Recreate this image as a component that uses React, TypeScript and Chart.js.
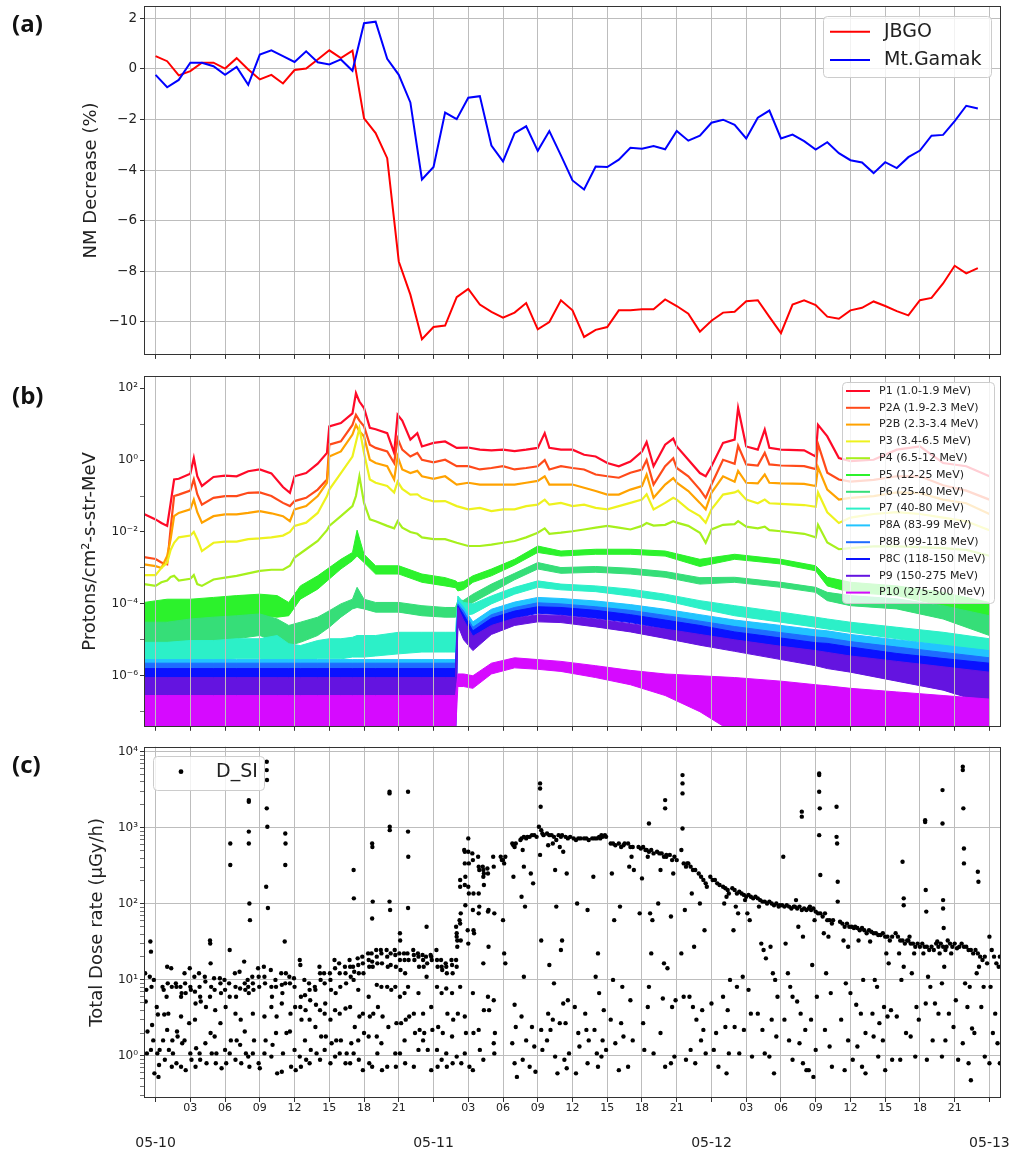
import React, { useEffect, useRef } from "react";
import { Chart, registerables } from "chart.js";

Chart.register(...registerables);

const FONT = "'DejaVu Sans', 'Liberation Sans', sans-serif";
const TXT = "#222222";
const GRID = "#bdbdbd";
const AXIS = "#333333";

// ---------------- shared x axis (hours since 05-10 00:00 UT) ----------------
const X_MIN = -1;
const X_MAX = 73;
const X_TICKS = [0, 3, 6, 9, 12, 15, 18, 21, 24, 27, 30, 33, 36, 39, 42, 45, 48, 51, 54, 57, 60, 63, 66, 69, 72];
const DAY_LABELS = ["05-10", "05-11", "05-12", "05-13"];

// ---------------- (a) neutron monitor decrease (%) ----------------
const NM_HOURS = [0, 1, 2, 3, 4, 5, 6, 7, 8, 9, 10, 11, 12, 13, 14, 15, 16, 17, 18, 19, 20, 21, 22, 23, 24, 25, 26, 27, 28, 29, 30, 31, 32, 33, 34, 35, 36, 37, 38, 39, 40, 41, 42, 43, 44, 45, 46, 47, 48, 49, 50, 51, 52, 53, 54, 55, 56, 57, 58, 59, 60, 61, 62, 63, 64, 65, 66, 67, 68, 69, 70, 71];
const JBGO = [0.5, 0.3, -0.26, -0.09, 0.24, 0.24, 0.01, 0.42, -0.03, -0.42, -0.24, -0.58, -0.05, 0.01, 0.37, 0.73, 0.42, 0.72, -1.96, -2.54, -3.53, -7.61, -8.92, -10.68, -10.2, -10.14, -9.02, -8.69, -9.31, -9.6, -9.83, -9.63, -9.25, -10.29, -10.0, -9.14, -9.54, -10.59, -10.31, -10.2, -9.54, -9.54, -9.5, -9.5, -9.11, -9.37, -9.67, -10.38, -9.95, -9.63, -9.6, -9.18, -9.14, -9.8, -10.44, -9.31, -9.14, -9.33, -9.79, -9.87, -9.54, -9.44, -9.19, -9.37, -9.57, -9.74, -9.14, -9.05, -8.48, -7.78, -8.08, -7.87];
const GAMAK = [-0.24, -0.73, -0.44, 0.24, 0.24, 0.1, -0.24, 0.07, -0.63, 0.56, 0.73, 0.5, 0.27, 0.69, 0.26, 0.17, 0.37, -0.08, 1.8, 1.86, 0.39, -0.24, -1.33, -4.37, -3.88, -1.73, -1.99, -1.14, -1.08, -3.03, -3.66, -2.54, -2.27, -3.24, -2.46, -3.42, -4.41, -4.77, -3.86, -3.88, -3.59, -3.12, -3.16, -3.05, -3.18, -2.46, -2.84, -2.64, -2.13, -2.01, -2.21, -2.75, -1.93, -1.65, -2.75, -2.6, -2.86, -3.19, -2.9, -3.33, -3.61, -3.7, -4.12, -3.69, -3.92, -3.49, -3.23, -2.64, -2.61, -2.07, -1.46, -1.57];
const NM_TICKS = [-10, -8, -6, -4, -2, 0, 2];

// ---------------- (b) GOES proton flux, log10(protons/cm2-s-str-MeV) ----------------
const TL = [-1, 0, 0.5, 1, 1.3, 1.6, 2, 3, 3.3, 3.6, 4, 5, 6, 7, 8, 9, 10, 11, 11.6, 12, 13, 14, 14.8, 15, 16, 17, 17.3, 17.6, 18, 18.5, 19, 20, 20.6, 20.9, 21.3, 22, 22.6, 23, 24, 25, 26, 27, 28, 29, 30, 31, 32, 33, 33.6, 34, 35, 36, 37, 38, 39, 40, 41, 42, 42.4, 43, 44, 44.7, 45, 46, 47, 47.5, 48, 49, 50, 50.3, 51, 52, 52.6, 53, 54, 56, 57, 57.2, 58, 59, 60, 62, 64, 66, 68, 70, 72];
const P1 = [-1.5, -1.65, -1.75, -1.83, -1.2, -0.54, -0.52, -0.38, 0.06, -0.45, -0.72, -0.47, -0.43, -0.45, -0.31, -0.26, -0.37, -0.75, -0.91, -0.45, -0.36, -0.1, 0.2, 0.94, 1.03, 1.3, 1.86, 1.63, 1.45, 0.9, 0.86, 0.75, 0.2, 1.26, 1.1, 0.57, 0.75, 0.38, 0.48, 0.52, 0.34, 0.35, 0.29, 0.27, 0.29, 0.25, 0.29, 0.34, 0.75, 0.34, 0.29, 0.29, 0.15, 0.1, -0.08, -0.17, -0.04, 0.24, 0.5, -0.17, 0.43, 0.6, 0.38, 0.01, -0.36, -0.45, -0.17, 0.48, 0.57, 1.45, 0.38, 0.29, 0.85, 0.34, 0.29, 0.27, 0.1, 0.98, 0.66, 0.06, -0.03, 0.01, 0.29, 0.38, -0.08, -0.17, -0.45];
const P2A = [-2.7, -2.75, -2.85, -2.9, -1.9, -1.0, -0.96, -0.85, -0.54, -0.95, -1.24, -1.05, -1.0, -1.0, -0.91, -0.9, -1.0, -1.19, -1.28, -1.14, -1.05, -0.82, -0.54, 0.43, 0.52, 0.98, 1.26, 1.1, 0.94, 0.43, 0.34, 0.24, -0.08, 0.6, 0.29, 0.1, 0.2, 0.01, -0.06, 0.01, -0.17, -0.17, -0.26, -0.22, -0.17, -0.26, -0.22, -0.17, 0.0, -0.26, -0.17, -0.22, -0.26, -0.4, -0.45, -0.49, -0.35, -0.26, 0.0, -0.68, -0.17, 0.05, -0.22, -0.45, -0.82, -1.05, -0.68, 0.01, -0.1, 0.4, -0.12, -0.15, 0.2, -0.12, -0.15, -0.17, -0.25, 0.45, -0.35, -0.54, -0.6, -0.55, -0.45, -0.45, -0.7, -0.85, -1.1];
const P2B = [-2.9, -2.95, -3.0, -2.67, -2.2, -1.56, -1.47, -1.37, -1.1, -1.45, -1.74, -1.56, -1.51, -1.51, -1.47, -1.42, -1.48, -1.56, -1.7, -1.37, -1.28, -1.0, -0.63, 0.1, 0.24, 0.71, 0.98, 0.8, 0.66, 0.01, -0.08, -0.17, -0.54, 0.1, -0.26, -0.36, -0.3, -0.45, -0.52, -0.45, -0.68, -0.63, -0.68, -0.68, -0.68, -0.68, -0.63, -0.58, -0.45, -0.68, -0.68, -0.68, -0.77, -0.86, -0.96, -0.96, -0.82, -0.72, -0.4, -1.05, -0.68, -0.5, -0.63, -0.86, -1.19, -1.37, -0.91, -0.45, -0.6, -0.3, -0.63, -0.65, -0.4, -0.63, -0.65, -0.66, -0.72, -0.2, -0.82, -1.1, -1.05, -1.0, -0.9, -0.92, -1.1, -1.2, -1.5];
const P3 = [-3.2, -3.2, -3.0, -2.85, -2.5, -2.3, -2.15, -2.1, -2.0, -2.2, -2.53, -2.3, -2.27, -2.27, -2.2, -2.18, -2.15, -2.1, -2.0, -1.83, -1.74, -1.47, -1.0, -0.82, -0.36, 0.1, 0.5, 0.89, 0.2, -0.54, -0.63, -0.72, -0.9, -0.6, -0.8, -0.96, -0.95, -1.05, -1.15, -1.14, -1.28, -1.37, -1.33, -1.42, -1.37, -1.37, -1.28, -1.24, -1.1, -1.24, -1.19, -1.28, -1.24, -1.33, -1.37, -1.28, -1.19, -1.1, -0.95, -1.37, -1.19, -1.05, -1.1, -1.37, -1.56, -1.74, -1.37, -0.96, -0.9, -0.85, -1.1, -1.2, -1.1, -1.2, -1.22, -1.25, -1.3, -0.9, -1.45, -1.75, -1.6, -1.5, -1.45, -1.5, -1.6, -1.7, -1.95];
const P4 = [-3.45, -3.5, -3.4, -3.35, -3.25, -3.22, -3.35, -3.3, -3.2, -3.45, -3.5, -3.32, -3.27, -3.22, -3.15, -3.08, -3.05, -3.05, -2.94, -2.71, -2.48, -2.25, -1.95, -1.83, -1.56, -1.28, -1.0, -0.45, -1.19, -1.65, -1.7, -1.83, -1.9, -1.7, -1.88, -2.0, -2.05, -2.15, -2.2, -2.2, -2.3, -2.39, -2.39, -2.35, -2.3, -2.25, -2.15, -2.02, -1.9, -2.05, -2.02, -1.98, -1.93, -1.88, -1.83, -1.88, -1.93, -1.83, -1.75, -1.82, -1.8, -1.7, -1.74, -1.83, -2.02, -2.3, -1.93, -1.8, -1.78, -1.7, -1.85, -1.9, -1.85, -1.95, -1.98, -2.05, -2.15, -1.8, -2.29, -2.48, -2.45, -2.4, -2.4, -2.42, -2.45, -2.5, -2.66];

const TB = [-1, 1, 3, 5, 7, 9, 10.5, 11.5, 12.5, 14, 15, 16, 17, 17.4, 18, 19, 21, 23, 25, 25.9, 26.1, 26.6, 27.4, 29, 31, 33, 35, 38, 41, 44, 47, 50, 54, 57, 58, 60, 64, 68, 72];
const P5_HI = [-3.96, -3.87, -3.87, -3.82, -3.77, -3.73, -3.77, -3.96, -3.5, -3.22, -2.99, -2.76, -2.57, -1.95, -2.62, -2.94, -2.94, -3.17, -3.27, -3.36, -3.41, -3.38, -3.22, -3.03, -2.76, -2.39, -2.53, -2.48, -2.48, -2.53, -2.76, -2.62, -2.76, -2.94, -3.26, -3.4, -3.5, -3.68, -3.96];
const P5_LO = [-4.6, -4.51, -4.51, -4.42, -4.37, -4.33, -4.37, -4.33, -3.87, -3.59, -3.31, -3.03, -2.8, -2.67, -2.85, -3.17, -3.17, -3.4, -3.5, -3.55, -3.64, -3.6, -3.4, -3.22, -2.92, -2.57, -2.67, -2.62, -2.62, -2.67, -2.96, -2.76, -2.89, -3.08, -3.5, -3.68, -3.77, -4.05, -4.5];
const P6_HI = [-4.51, -4.51, -4.42, -4.37, -4.33, -4.28, -4.42, -4.6, -4.51, -4.37, -4.19, -4.0, -3.87, -3.54, -3.87, -3.96, -3.96, -4.05, -4.1, -4.1, -3.91, -3.9, -3.73, -3.45, -3.15, -2.85, -2.99, -2.96, -3.01, -3.1, -3.27, -3.26, -3.4, -3.54, -3.68, -3.77, -3.86, -4.05, -4.33];
const P6_LO = [-5.25, -5.16, -5.16, -5.07, -4.97, -4.88, -5.07, -5.16, -5.07, -4.88, -4.65, -4.37, -4.14, -4.1, -4.14, -4.23, -4.23, -4.33, -4.37, -4.37, -4.19, -4.2, -3.96, -3.68, -3.33, -3.03, -3.15, -3.12, -3.17, -3.26, -3.45, -3.4, -3.54, -3.68, -3.91, -4.05, -4.14, -4.42, -4.88];
const P7_HI = [-5.07, -5.07, -5.02, -5.02, -4.97, -4.97, -4.88, -5.11, -5.16, -5.02, -4.97, -4.97, -4.93, -4.88, -4.88, -4.88, -4.79, -4.79, -4.79, -4.79, -3.78, -3.96, -4.0, -3.78, -3.54, -3.36, -3.45, -3.5, -3.59, -3.73, -3.91, -4.05, -4.23, -4.37, -4.42, -4.51, -4.65, -4.79, -4.97];
const P7_LO = [-5.62, -5.62, -5.57, -5.57, -5.53, -5.53, -5.62, -5.62, -5.62, -5.53, -5.53, -5.53, -5.48, -5.48, -5.48, -5.45, -5.39, -5.34, -5.34, -5.34, -4.14, -4.33, -4.28, -4.0, -3.73, -3.54, -3.61, -3.66, -3.78, -3.91, -4.13, -4.33, -4.51, -4.65, -4.7, -4.79, -4.97, -5.16, -5.39];
const P8A_HI = [-5.55, -5.55, -5.55, -5.55, -5.55, -5.55, -5.55, -5.55, -5.55, -5.55, -5.55, -5.55, -5.55, -5.55, -5.55, -5.55, -5.55, -5.55, -5.55, -5.55, -3.9, -4.1, -4.5, -4.15, -3.95, -3.82, -3.85, -3.92, -4.02, -4.15, -4.3, -4.45, -4.6, -4.72, -4.75, -4.85, -5.0, -5.15, -5.3];
const P8A_LO = [-7.6, -7.6, -7.6, -7.6, -7.6, -7.6, -7.6, -7.6, -7.6, -7.6, -7.6, -7.6, -7.6, -7.6, -7.6, -7.6, -7.6, -7.6, -7.6, -7.6, -4.3, -4.5, -4.9, -4.4, -4.15, -4.0, -4.05, -4.12, -4.22, -4.38, -4.55, -4.7, -4.88, -5.0, -5.05, -5.15, -5.35, -5.5, -5.7];
const P8B_HI = [-5.65, -5.65, -5.65, -5.65, -5.65, -5.65, -5.65, -5.65, -5.65, -5.65, -5.65, -5.65, -5.65, -5.65, -5.65, -5.65, -5.65, -5.65, -5.65, -5.65, -4.0, -4.2, -4.65, -4.3, -4.1, -3.97, -4.0, -4.08, -4.18, -4.32, -4.48, -4.63, -4.8, -4.92, -4.95, -5.05, -5.2, -5.35, -5.5];
const P8B_LO = [-7.6, -7.6, -7.6, -7.6, -7.6, -7.6, -7.6, -7.6, -7.6, -7.6, -7.6, -7.6, -7.6, -7.6, -7.6, -7.6, -7.6, -7.6, -7.6, -7.6, -4.4, -4.7, -5.05, -4.55, -4.3, -4.15, -4.2, -4.28, -4.4, -4.56, -4.75, -4.92, -5.1, -5.25, -5.3, -5.4, -5.6, -5.8, -6.0];
const P8C_HI = [-5.8, -5.8, -5.8, -5.8, -5.8, -5.8, -5.8, -5.8, -5.8, -5.8, -5.8, -5.8, -5.8, -5.8, -5.8, -5.8, -5.8, -5.8, -5.8, -5.8, -4.05, -4.3, -4.75, -4.4, -4.2, -4.08, -4.1, -4.18, -4.3, -4.45, -4.6, -4.78, -4.95, -5.08, -5.1, -5.2, -5.38, -5.52, -5.65];
const P8C_LO = [-7.6, -7.6, -7.6, -7.6, -7.6, -7.6, -7.6, -7.6, -7.6, -7.6, -7.6, -7.6, -7.6, -7.6, -7.6, -7.6, -7.6, -7.6, -7.6, -7.6, -4.5, -4.8, -5.15, -4.65, -4.4, -4.26, -4.3, -4.4, -4.52, -4.7, -4.9, -5.08, -5.28, -5.45, -5.5, -5.6, -5.82, -6.05, -6.3];
const P9_HI = [-6.05, -6.05, -6.05, -6.05, -6.05, -6.05, -6.05, -6.05, -6.05, -6.05, -6.05, -6.05, -6.05, -6.05, -6.05, -6.05, -6.05, -6.05, -6.05, -6.05, -4.1, -4.45, -4.9, -4.6, -4.4, -4.3, -4.32, -4.42, -4.55, -4.7, -4.85, -5.0, -5.18, -5.3, -5.35, -5.45, -5.6, -5.75, -5.9];
const P9_LO = [-7.6, -7.6, -7.6, -7.6, -7.6, -7.6, -7.6, -7.6, -7.6, -7.6, -7.6, -7.6, -7.6, -7.6, -7.6, -7.6, -7.6, -7.6, -7.6, -7.6, -4.6, -5.0, -5.3, -4.85, -4.6, -4.5, -4.52, -4.64, -4.78, -4.96, -5.15, -5.32, -5.55, -5.72, -5.8, -5.9, -6.15, -6.4, -6.8];
const P10_HI = [-6.55, -6.55, -6.55, -6.55, -6.55, -6.55, -6.55, -6.55, -6.55, -6.55, -6.55, -6.55, -6.55, -6.55, -6.55, -6.55, -6.55, -6.55, -6.55, -6.55, -5.95, -5.95, -6.0, -5.65, -5.5, -5.55, -5.6, -5.72, -5.85, -5.95, -6.0, -6.05, -6.15, -6.25, -6.28, -6.35, -6.45, -6.55, -6.65];
const P10_LO = [-7.6, -7.6, -7.6, -7.6, -7.6, -7.6, -7.6, -7.6, -7.6, -7.6, -7.6, -7.6, -7.6, -7.6, -7.6, -7.6, -7.6, -7.6, -7.6, -7.6, -6.3, -6.3, -6.35, -5.95, -5.78, -5.82, -5.88, -6.05, -6.25, -6.55, -7.0, -7.6, -7.6, -7.6, -7.6, -7.6, -7.6, -7.6, -7.6];

const LINE_SERIES = [
  { label: "P1 (1.0-1.9 MeV)", color: "#ff0a28", y: P1 },
  { label: "P2A (1.9-2.3 MeV)", color: "#ff4a1a", y: P2A },
  { label: "P2B (2.3-3.4 MeV)", color: "#ffa200", y: P2B },
  { label: "P3 (3.4-6.5 MeV)", color: "#eef21e", y: P3 },
  { label: "P4 (6.5-12 MeV)", color: "#a6f01c", y: P4 },
];
const BAND_SERIES = [
  { label: "P5 (12-25 MeV)", color: "#2cf22c", hi: P5_HI, lo: P5_LO },
  { label: "P6 (25-40 MeV)", color: "#36de78", hi: P6_HI, lo: P6_LO },
  { label: "P7 (40-80 MeV)", color: "#2cf0c8", hi: P7_HI, lo: P7_LO },
  { label: "P8A (83-99 MeV)", color: "#22c4ff", hi: P8A_HI, lo: P8A_LO },
  { label: "P8B (99-118 MeV)", color: "#1e6cff", hi: P8B_HI, lo: P8B_LO },
  { label: "P8C (118-150 MeV)", color: "#0a12ff", hi: P8C_HI, lo: P8C_LO },
  { label: "P9 (150-275 MeV)", color: "#6414e0", hi: P9_HI, lo: P9_LO },
  { label: "P10 (275-500 MeV)", color: "#d60aff", hi: P10_HI, lo: P10_LO },
];

// ---------------- (c) total dose rate, [hour, uGy/h] ----------------
const DOSE = [
  [-0.9, 12.2], [-0.8, 7.4], [-0.85, 5.2], [-0.75, 1.08], [-0.7, 2.1],
  [-0.45, 32], [-0.4, 23.5], [-0.5, 11], [-0.35, 8.1], [-0.4, 1.2], [-0.3, 2.55],
  [-0.15, 10], [-0.2, 1.6], [-0.1, 0.59],
  [0.1, 4.4], [0.2, 3.5], [0.25, 0.53], [0.3, 0.76], [0.15, 1.08], [0.35, 1.2],
  [0.6, 8.1], [0.7, 7.4], [0.75, 3.5], [0.65, 1.6], [0.8, 0.89],
  [1.0, 14.9], [1.05, 9], [0.95, 6], [1.1, 3.6], [1.0, 2.2], [1.15, 1.2],
  [1.35, 14.2], [1.4, 8.1], [1.45, 1.6], [1.5, 1.08], [1.4, 0.72],
  [1.75, 9], [1.8, 8.1], [1.85, 2.1], [1.9, 1.8], [1.8, 0.8],
  [2.15, 8.1], [2.2, 6], [2.25, 6.7], [2.2, 3.3], [2.3, 1.47], [2.2, 0.72],
  [2.5, 12.2], [2.55, 9], [2.6, 6.7], [2.5, 1.6], [2.6, 0.65],
  [2.95, 14.2], [3.0, 8.1], [3.05, 7.4], [2.9, 2.7], [3.0, 1.08], [3.1, 0.89],
  [3.35, 11], [3.4, 7], [3.45, 4.9], [3.4, 3], [3.5, 1.26], [3.45, 0.72],
  [3.75, 12.2], [3.8, 8.1], [3.85, 6], [3.9, 5.2], [3.8, 1.08], [3.85, 0.89],
  [4.25, 11], [4.3, 9.5], [4.35, 4.4], [4.3, 1.47], [4.4, 0.8],
  [4.7, 33], [4.72, 30], [4.75, 16.5], [4.8, 8.1], [4.7, 6], [4.75, 2.0], [4.85, 1.08],
  [5.05, 10.5], [5.1, 7.4], [5.15, 4], [5.1, 1.8], [5.2, 0.8], [5.25, 1.08],
  [5.55, 10.5], [5.6, 9], [5.65, 6.7], [5.6, 2.7], [5.7, 0.69],
  [5.95, 10], [6.0, 7.4], [6.05, 4.4], [6.0, 1.2], [6.1, 0.8],
  [6.45, 620], [6.45, 324], [6.4, 24.7], [6.35, 9], [6.4, 6], [6.5, 1.6], [6.4, 1.08],
  [6.85, 12.2], [6.9, 8.1], [6.95, 6], [6.9, 3.6], [7.0, 1.6], [6.9, 0.89],
  [7.25, 12.8], [7.3, 7.7], [7.35, 3], [7.3, 1.4], [7.4, 0.8],
  [7.65, 17.4], [7.7, 9], [7.75, 7.4], [7.7, 2.1], [7.8, 1.08],
  [8.05, 2310], [8.05, 2200], [8.05, 890], [8.05, 620], [8.1, 101], [8.15, 61], [7.95, 10], [8.0, 8.1], [8.05, 6.7], [8.0, 0.98], [8.1, 0.72],
  [8.35, 11], [8.4, 9], [8.45, 7.4], [8.4, 3.6], [8.5, 1.6], [8.4, 1.08],
  [8.85, 14.2], [8.9, 11], [8.95, 8.1], [8.9, 0.8], [9.0, 0.69],
  [9.35, 14.9], [9.4, 11], [9.45, 9], [9.4, 3.3], [9.5, 1.6], [9.4, 1.08],
  [9.6, 7380], [9.6, 5730], [9.62, 4240], [9.6, 1800], [9.65, 1030], [9.55, 168], [9.7, 88],
  [9.95, 13.5], [10.0, 8.1], [10.05, 6], [10.0, 4.4], [10.1, 1.4], [10.0, 0.98],
  [10.35, 10], [10.4, 8.1], [10.45, 3.3], [10.4, 2], [10.5, 0.59],
  [10.85, 12.2], [10.9, 8.6], [10.95, 6.7], [10.9, 4.9], [11.0, 1.08], [10.9, 0.62],
  [11.2, 840], [11.22, 620], [11.2, 324], [11.15, 32], [11.25, 12.2], [11.2, 9], [11.3, 2.0],
  [11.55, 11], [11.6, 9], [11.65, 3.6], [11.6, 2.1], [11.7, 0.72],
  [11.95, 10.5], [12.0, 8.1], [12.05, 4.4], [12.0, 1.2], [12.1, 0.65],
  [12.45, 18.3], [12.5, 15.7], [12.55, 6], [12.5, 4.4], [12.6, 3], [12.45, 0.98], [12.55, 0.72],
  [12.85, 10], [12.9, 6.3], [12.95, 4], [12.9, 1.6], [13.0, 0.89],
  [13.25, 9], [13.3, 7.4], [13.35, 5.4], [13.3, 3], [13.4, 1.2], [13.3, 0.8],
  [13.75, 8.1], [13.8, 7.4], [13.85, 4.7], [13.8, 2.4], [13.9, 1.08],
  [14.15, 14.9], [14.2, 12.2], [14.25, 10], [14.2, 4], [14.3, 1.8], [14.2, 0.89],
  [14.55, 12.2], [14.6, 9], [14.65, 4.9], [14.6, 3.6], [14.7, 1.8], [14.6, 1.2],
  [15.05, 12.2], [15.1, 10], [15.15, 7.4], [15.1, 3], [15.2, 1.47], [15.1, 0.8],
  [15.45, 18.3], [15.5, 14.2], [15.55, 6.7], [15.5, 4], [15.6, 1.6], [15.5, 0.98],
  [15.85, 16.5], [15.9, 12.2], [15.95, 8.1], [15.9, 3.6], [16.0, 1.6], [15.9, 1.08],
  [16.35, 14.9], [16.4, 12.2], [16.45, 9], [16.4, 4.2], [16.5, 1.08], [16.4, 0.8],
  [16.75, 18.3], [16.8, 14.9], [16.85, 11], [16.8, 4.4], [16.9, 1.47], [16.8, 0.8],
  [17.1, 278], [17.12, 118], [17.05, 14.9], [17.15, 12.8], [17.1, 10], [17.2, 2.4], [17.1, 1.08],
  [17.45, 19.2], [17.5, 15.7], [17.55, 12.2], [17.5, 7.4], [17.6, 3.3], [17.5, 1.6], [17.55, 0.89],
  [17.85, 20.2], [17.9, 16.5], [17.95, 12.2], [17.9, 3.6], [18.0, 2], [17.9, 0.65],
  [18.35, 22.3], [18.4, 18.3], [18.45, 14.9], [18.4, 6], [18.5, 3.3], [18.4, 1.8], [18.45, 0.8],
  [18.7, 620], [18.72, 560], [18.75, 107], [18.7, 64], [18.65, 22.3], [18.7, 17.4], [18.75, 14.9], [18.8, 3.6], [18.7, 0.72],
  [19.05, 24.7], [19.1, 20.2], [19.15, 16.5], [19.1, 8.6], [19.2, 4.4], [19.1, 1.8], [19.15, 1.08],
  [19.45, 24.7], [19.5, 22.3], [19.55, 16.5], [19.5, 8.1], [19.6, 3.3], [19.5, 1.47], [19.55, 0.65],
  [19.95, 24.7], [20.0, 20.2], [20.05, 14.9], [20.0, 8.1], [20.1, 2.4], [20.0, 0.72],
  [20.2, 2970], [20.2, 2830], [20.22, 1030], [20.22, 930], [20.2, 107], [20.25, 83], [20.3, 22.3], [20.3, 15.7], [20.35, 7.4],
  [20.65, 24.7], [20.7, 21.2], [20.75, 14.9], [20.7, 8.1], [20.8, 2.7], [20.7, 1.08], [20.75, 0.72],
  [21.1, 41], [21.12, 33], [21.05, 22.3], [21.1, 18.3], [21.15, 13.5], [21.1, 6], [21.2, 2.7], [21.1, 1.08],
  [21.45, 22.3], [21.5, 18.3], [21.55, 12.2], [21.5, 6.7], [21.6, 3], [21.5, 1.6], [21.55, 0.8],
  [21.8, 2970], [21.8, 890], [21.82, 416], [21.8, 88], [21.75, 22.3], [21.85, 18.3], [21.8, 8.1], [21.9, 3.3],
  [22.25, 24.7], [22.3, 21.2], [22.35, 18.3], [22.3, 3.6], [22.4, 2], [22.3, 0.72],
  [22.65, 22.3], [22.7, 20.2], [22.75, 14.9], [22.7, 6.7], [22.8, 2.2], [22.7, 1.2],
  [23.05, 21.2], [23.1, 18.3], [23.15, 14.9], [23.1, 3.6], [23.2, 2], [23.1, 1.6],
  [23.4, 50], [23.35, 20.2], [23.45, 16.5], [23.4, 11], [23.5, 1.2],
  [23.75, 21.2], [23.8, 20.2], [23.85, 18.3], [23.8, 4.4], [23.9, 2.2], [23.8, 0.65],
  [24.25, 24.7], [24.3, 18.3], [24.35, 14.9], [24.3, 8.1], [24.4, 2.4], [24.3, 1.2], [24.35, 0.72],
  [24.65, 18.3], [24.7, 14.9], [24.75, 13.5], [24.7, 6.7], [24.8, 2], [24.7, 0.89],
  [25.05, 16.5], [25.1, 14.9], [25.15, 12.2], [25.1, 7.7], [25.2, 3.6], [25.1, 1.08], [25.15, 0.72],
  [25.55, 18.3], [25.6, 15.7], [25.65, 12.2], [25.6, 6.7], [25.7, 3], [25.6, 1.8], [25.65, 0.8],
  [25.95, 50], [26.0, 41], [26.0, 37], [26.05, 33], [26.05, 27.3], [25.95, 18.3], [26.0, 14.9], [26.1, 3.6], [26.0, 0.98],
  [26.3, 168], [26.3, 206], [26.35, 75], [26.25, 61], [26.3, 55], [26.35, 33], [26.3, 8.1], [26.4, 0.8],
  [26.65, 510], [26.7, 485], [26.7, 340], [26.75, 227], [26.7, 177], [26.75, 96], [26.7, 3.3], [26.8, 2], [26.7, 1.08],
  [27.0, 725], [27.0, 485], [27.05, 340], [27.0, 168], [27.05, 137], [26.95, 45], [27.0, 30], [27.1, 0.72],
  [27.35, 460], [27.4, 376], [27.45, 137], [27.4, 83], [27.45, 45], [27.5, 41], [27.4, 6.7], [27.45, 2], [27.4, 0.65],
  [27.85, 416], [27.9, 308], [27.95, 278], [27.9, 137], [27.95, 92], [27.9, 75], [27.9, 2.2], [28.0, 1.2],
  [28.25, 308], [28.3, 278], [28.35, 251], [28.3, 227], [28.35, 177], [28.3, 16.5], [28.35, 4], [28.3, 0.89],
  [28.65, 292], [28.7, 251], [28.75, 83], [28.7, 79], [28.75, 27.3], [28.7, 6], [28.8, 4],
  [29.15, 416], [29.2, 308], [29.25, 75], [29.2, 5.4], [29.3, 2.0], [29.2, 1.47], [29.25, 1.08],
  [29.8, 416], [29.9, 376], [30.0, 376], [30.1, 340], [30.2, 416], [30.0, 61], [30.1, 22.3], [30.2, 16.5],
  [30.8, 620], [30.9, 590], [31.0, 560], [31.1, 620], [30.9, 227], [31.0, 4.7], [31.1, 2.4], [30.8, 1.47], [31.0, 0.8], [31.2, 0.53],
  [31.5, 690], [31.6, 725], [31.8, 760], [32.0, 725], [32.1, 760], [31.7, 510], [31.8, 308], [31.6, 124], [31.9, 92], [31.8, 11], [31.6, 3.3], [32.0, 1.6], [31.7, 0.89],
  [32.3, 760], [32.5, 800], [32.7, 800], [32.9, 760], [32.4, 251], [32.6, 186], [32.5, 2.4], [32.7, 1.33], [32.3, 0.72], [32.8, 0.62],
  [33.2, 3830], [33.2, 3290], [33.25, 1890], [33.1, 1030], [33.3, 930], [33.4, 840], [33.5, 800], [33.2, 440], [33.3, 33], [33.3, 2.2], [33.4, 1.2],
  [33.8, 840], [34.0, 800], [33.9, 590], [34.0, 15.7], [33.9, 3.6], [34.1, 2.2], [33.8, 1.6],
  [34.2, 800], [34.4, 760], [34.6, 690], [34.3, 620], [34.5, 278], [34.6, 92], [34.4, 9], [34.3, 3], [34.5, 0.98], [34.7, 0.59],
  [34.8, 800], [35.0, 760], [35.1, 800], [34.9, 560], [35.2, 485], [35.1, 33], [35.0, 24.7], [35.2, 4.9], [34.9, 2.7], [35.3, 0.89],
  [35.4, 760], [35.6, 725], [35.8, 760], [35.5, 251], [35.6, 5.4], [35.4, 2.7], [35.7, 1.08], [35.5, 0.69],
  [36.1, 725], [36.3, 690], [36.5, 725], [36.7, 725], [36.4, 101], [36.2, 4.4], [36.5, 2], [36.6, 1.33], [36.3, 0.59],
  [37.0, 725], [37.2, 725], [37.4, 690], [37.3, 83], [37.1, 3.6], [37.2, 2.2], [37.4, 1.6], [37.3, 0.8],
  [37.7, 725], [37.9, 725], [38.1, 725], [38.3, 760], [38.4, 725], [37.8, 227], [38.2, 22.3], [38.0, 11], [38.3, 6.7], [37.9, 2.2], [38.1, 1.08], [38.2, 0.72],
  [38.5, 800], [38.6, 760], [38.8, 800], [38.9, 760], [38.7, 4], [38.6, 1.6], [38.9, 1.2], [38.5, 0.98],
  [39.3, 620], [39.5, 620], [39.7, 590], [39.4, 251], [39.6, 61], [39.5, 10], [39.3, 3], [39.7, 1.47],
  [40.0, 620], [40.2, 560], [40.4, 590], [40.5, 620], [40.1, 92], [40.3, 8.1], [40.2, 2.7], [40.4, 1.8], [40.0, 0.65],
  [40.8, 620], [41.0, 560], [41.2, 560], [41.1, 416], [40.9, 308], [41.3, 278], [41.0, 5.4], [41.2, 1.6], [40.8, 0.72],
  [41.7, 560], [41.9, 535], [42.1, 560], [42.3, 510], [42.0, 216], [41.8, 75], [42.1, 2.7], [42.2, 1.2],
  [42.6, 1140], [42.4, 510], [42.6, 485], [42.8, 510], [43.0, 460], [42.5, 416], [42.7, 75], [42.9, 61], [42.8, 22.3], [42.6, 8.1], [42.5, 4.4], [43.0, 1.08],
  [43.3, 485], [43.5, 460], [43.7, 460], [43.9, 416], [44.1, 440], [43.6, 278], [43.4, 101], [43.8, 5.7], [43.6, 2], [44.0, 0.72],
  [44.0, 2310], [44.0, 1800], [44.1, 416], [44.2, 14.2], [43.9, 16.5],
  [44.4, 440], [44.6, 376], [44.8, 416], [45.0, 376], [44.7, 251], [44.5, 68], [44.9, 5.4], [44.6, 4.4], [44.8, 0.98], [44.5, 0.8],
  [45.5, 4930], [45.5, 3830], [45.5, 2830], [45.5, 980], [45.4, 510], [45.6, 340], [45.8, 308], [45.9, 340], [45.7, 83], [45.4, 22.3], [45.6, 6], [45.8, 0.89],
  [46.0, 340], [46.2, 308], [46.4, 278], [46.6, 278], [46.3, 137], [46.5, 27.3], [46.1, 6], [46.4, 4.4], [46.7, 3], [46.2, 1.2], [46.6, 0.8],
  [46.9, 251], [47.1, 227], [47.3, 206], [47.5, 186], [47.6, 168], [47.0, 101], [47.4, 45], [47.2, 4], [47.3, 2.2], [47.1, 1.6], [47.5, 1.08],
  [47.9, 227], [48.1, 206], [48.3, 206], [48.5, 186], [48.7, 177], [48.0, 4.9], [48.4, 2], [48.2, 1.2], [48.6, 0.72],
  [49.0, 168], [49.2, 160], [49.4, 152], [49.5, 137], [49.3, 124], [49.1, 101], [49.6, 10], [49.0, 6], [49.4, 4], [49.2, 2.4], [49.5, 1.08], [49.3, 0.59],
  [49.8, 160], [50.0, 152], [50.2, 137], [50.4, 144], [50.1, 92], [50.3, 75], [49.9, 45], [50.2, 8.1], [50.0, 2.4], [50.4, 1.08],
  [50.6, 137], [50.8, 131], [51.0, 124], [51.2, 131], [51.4, 124], [51.6, 118], [50.9, 112], [51.1, 75], [51.3, 61], [50.7, 11], [51.2, 7.4], [51.4, 3.6], [50.8, 2.2], [51.5, 0.98],
  [51.8, 124], [52.0, 118], [52.2, 112], [52.4, 107], [52.6, 107], [52.8, 101], [52.1, 92], [52.3, 30], [52.5, 24.7], [52.7, 19.2], [52.0, 3.6], [52.4, 2.2], [52.6, 1.08],
  [53.0, 107], [53.2, 101], [53.4, 96], [53.6, 101], [53.8, 92], [53.9, 96], [53.1, 27.3], [53.3, 12.2], [53.5, 10], [53.7, 6], [53.2, 3], [53.6, 1.8], [53.0, 0.98], [53.4, 0.59],
  [54.2, 416], [54.1, 96], [54.3, 92], [54.5, 96], [54.7, 92], [54.9, 87], [55.1, 92], [54.4, 30], [54.6, 12.2], [54.8, 8.1], [55.0, 6], [54.3, 3], [54.7, 1.6], [55.0, 0.89],
  [55.2, 92], [55.4, 87], [55.6, 92], [55.8, 83], [56.0, 87], [56.2, 83], [55.3, 112], [55.5, 50], [55.9, 37], [55.4, 5.2], [55.7, 3.6], [56.1, 2.2], [55.6, 1.47], [55.9, 0.8], [56.2, 0.65],
  [55.8, 1630], [55.8, 1400],
  [56.4, 87], [56.6, 83], [56.8, 87], [57.0, 79], [57.2, 75], [57.4, 75], [56.5, 92], [56.9, 61], [56.7, 15.7], [57.1, 6], [56.6, 3], [57.0, 1.2], [56.4, 0.65], [56.8, 0.53],
  [57.3, 5180], [57.3, 4930], [57.3, 2970], [57.35, 1800], [57.3, 800], [57.4, 239],
  [57.6, 68], [57.8, 75], [58.0, 61], [58.2, 61], [58.4, 55], [58.5, 61], [57.7, 41], [58.1, 37], [57.9, 12.2], [58.3, 6.7], [57.8, 2.2], [58.2, 1.33], [58.4, 0.72],
  [58.8, 1890], [58.8, 760], [58.85, 620], [58.9, 195], [58.9, 107],
  [59.1, 58], [59.3, 55], [59.5, 50], [59.7, 55], [59.9, 50], [60.1, 50], [60.3, 48], [59.4, 33], [59.8, 27.3], [59.6, 9], [60.0, 6.7], [59.2, 3], [59.8, 1.6], [60.2, 0.89], [59.5, 0.65],
  [60.4, 50], [60.6, 48], [60.8, 45], [61.0, 48], [61.2, 45], [61.4, 41], [60.7, 33], [61.1, 10], [60.5, 4.7], [60.9, 3.6], [61.3, 2], [60.6, 1.33], [61.0, 0.72], [61.3, 0.59],
  [61.6, 45], [61.8, 43], [62.0, 41], [62.2, 41], [62.4, 39], [62.6, 39], [61.7, 32], [62.1, 10], [62.3, 8.1], [61.9, 3.6], [62.5, 2.7], [62.0, 1.8], [62.4, 0.98],
  [62.8, 41], [63.0, 37], [63.2, 37], [63.4, 33], [63.6, 37], [63.1, 22.3], [63.3, 16.5], [62.9, 4.4], [63.5, 4], [63.2, 3.3], [62.8, 1.6], [63.6, 0.89], [63.0, 0.65],
  [63.9, 41], [64.1, 37], [64.3, 33], [64.5, 33], [64.7, 30], [64.9, 33], [64.2, 22.3], [64.6, 14.9], [64.4, 10], [64.0, 3.3], [64.8, 2], [64.3, 0.89],
  [64.5, 358], [64.6, 118], [64.6, 96],
  [65.0, 33], [65.2, 30], [65.4, 30], [65.6, 27.3], [65.8, 30], [66.0, 27.3], [65.1, 37], [65.5, 22.3], [65.3, 12.2], [65.7, 4.4], [65.9, 3], [65.2, 1.8], [65.6, 0.98],
  [66.45, 1260], [66.45, 1190], [66.5, 152], [66.55, 79],
  [66.2, 30], [66.4, 27.3], [66.6, 27.3], [66.8, 24.7], [67.0, 27.3], [67.2, 24.7], [66.3, 22.3], [66.7, 11], [66.9, 8.1], [66.5, 4.9], [67.1, 1.6], [66.6, 0.89],
  [67.95, 3130], [67.95, 1140], [68.0, 112], [68.0, 87], [68.05, 48],
  [67.4, 30], [67.6, 27.3], [67.8, 30], [68.0, 27.3], [68.2, 24.7], [68.3, 27.3], [67.5, 32], [67.7, 22.3], [68.1, 14.9], [67.9, 9], [67.3, 4.9], [67.6, 3.6], [68.2, 1.6], [67.9, 0.98],
  [68.4, 33], [68.6, 30], [68.8, 27.3], [69.0, 30], [69.2, 26], [69.4, 27.3], [68.7, 22.3], [69.1, 5.4], [68.5, 3.6], [68.9, 2.4], [69.3, 0.89],
  [69.7, 6340], [69.7, 5730], [69.75, 1800], [69.8, 535], [69.8, 340],
  [69.6, 30], [69.8, 27.3], [70.0, 27.3], [70.2, 24.7], [70.4, 24.7], [70.6, 22.3], [69.9, 9], [70.3, 8.1], [70.1, 4.4], [70.5, 2.3], [69.7, 1.47], [70.2, 0.8], [70.4, 0.48],
  [70.8, 24.7], [71.0, 22.3], [71.2, 20.2], [71.4, 18.3], [71.6, 20.2], [71.8, 16.5], [71.1, 14.9], [70.9, 12.2], [71.5, 8.1], [71.3, 4.4], [70.7, 2], [71.6, 0.98],
  [71.0, 264], [71.05, 195],
  [72.0, 37], [72.2, 24.7], [72.4, 20.2], [72.6, 16.5], [72.8, 14.9], [72.9, 20.2], [72.1, 8.1], [72.5, 3.6], [72.3, 2], [72.7, 1.47], [72.0, 0.8], [72.9, 0.8],
];

// ---------------- helpers ----------------
const SUP: Record<string, string> = { "0": "\u2070", "1": "\u00b9", "2": "\u00b2", "3": "\u00b3", "4": "\u2074", "5": "\u2075", "6": "\u2076", "7": "\u2077", "8": "\u2078", "9": "\u2079", "-": "\u207b" };
const pow10Label = (e: number) => "10" + String(e).split("").map((c) => SUP[c]).join("");

function buildLogTicks(lo: number, hi: number, labeled: number[], mults: number[]) {
  const out: any[] = [];
  for (let e = Math.floor(lo) - 1; e <= Math.ceil(hi); e++) {
    for (const m of mults) {
      const v = m * Math.pow(10, e);
      const lv = Math.log10(v);
      if (lv < lo || lv > hi) continue;
      const lab = m === 1 && labeled.includes(e);
      out.push({ value: v, exp: e, lab });
    }
  }
  return out;
}

function roundRectPath(ctx: CanvasRenderingContext2D, x: number, y: number, w: number, h: number, r: number) {
  ctx.beginPath();
  ctx.moveTo(x + r, y);
  ctx.lineTo(x + w - r, y);
  ctx.quadraticCurveTo(x + w, y, x + w, y + r);
  ctx.lineTo(x + w, y + h - r);
  ctx.quadraticCurveTo(x + w, y + h, x + w - r, y + h);
  ctx.lineTo(x + r, y + h);
  ctx.quadraticCurveTo(x, y + h, x, y + h - r);
  ctx.lineTo(x, y + r);
  ctx.quadraticCurveTo(x, y, x + r, y);
  ctx.closePath();
}

type LegendCfg = {
  anchor: "left" | "right";
  dx: number; dy: number; w: number; h: number;
  fontSize: number; row0: number; rowH: number;
  sx0: number; sx1: number; tx: number; lw: number;
  items: { label: string; color: string; dot?: boolean }[];
};

function overlayPlugin(cfg: LegendCfg) {
  return {
    id: "overlay",
    afterDraw(chart: any) {
      const { ctx, chartArea: ca } = chart;
      ctx.save();
      ctx.strokeStyle = AXIS;
      ctx.lineWidth = 1;
      ctx.strokeRect(Math.round(ca.left) + 0.5, Math.round(ca.top) + 0.5, Math.round(ca.right - ca.left) - 1, Math.round(ca.bottom - ca.top) - 1);
      const x = cfg.anchor === "left" ? ca.left + cfg.dx : ca.right - cfg.dx - cfg.w;
      const y = ca.top + cfg.dy;
      roundRectPath(ctx, Math.round(x) + 0.5, Math.round(y) + 0.5, cfg.w, cfg.h, 4);
      ctx.fillStyle = "rgba(255,255,255,0.8)";
      ctx.fill();
      ctx.strokeStyle = "#cccccc";
      ctx.stroke();
      ctx.font = `${cfg.fontSize}px ${FONT}`;
      ctx.textBaseline = "middle";
      ctx.textAlign = "left";
      cfg.items.forEach((it, i) => {
        const cy = y + cfg.row0 + i * cfg.rowH;
        if (it.dot) {
          ctx.beginPath();
          ctx.arc(x + cfg.sx0, cy, 2.4, 0, Math.PI * 2);
          ctx.fillStyle = it.color;
          ctx.fill();
        } else {
          ctx.beginPath();
          ctx.moveTo(x + cfg.sx0, cy);
          ctx.lineTo(x + cfg.sx1, cy);
          ctx.strokeStyle = it.color;
          ctx.lineWidth = cfg.lw;
          ctx.stroke();
        }
        ctx.fillStyle = TXT;
        ctx.fillText(it.label, x + cfg.tx, cy);
      });
      ctx.restore();
    },
  };
}

function xScale(height: number, labels: boolean, gridOnTop: boolean) {
  return {
    type: "linear",
    min: X_MIN,
    max: X_MAX,
    afterBuildTicks: (s: any) => {
      s.ticks = X_TICKS.map((v) => ({ value: v }));
    },
    afterFit: (s: any) => {
      s.height = height;
    },
    border: { display: false },
    grid: { color: GRID, lineWidth: 1, drawTicks: true, tickLength: 4, tickColor: AXIS, tickWidth: 1, z: gridOnTop ? 1 : 0 },
    ticks: labels
      ? {
          display: true,
          autoSkip: false,
          maxRotation: 0,
          minRotation: 0,
          padding: 0,
          color: TXT,
          font: (c: any) =>
            c.tick && c.tick.value % 24 === 0
              ? { family: FONT, size: 14, lineHeight: 1.95 }
              : { family: FONT, size: 11, lineHeight: 1.2 },
          callback: (v: any) => {
            const h = Number(v);
            return h % 24 === 0 ? ["", DAY_LABELS[h / 24]] : String(h % 24).padStart(2, "0");
          },
        }
      : { display: false },
  };
}

const baseOptions = (padTop: number) => ({
  responsive: false,
  animation: false,
  devicePixelRatio: 1,
  events: [],
  layout: { padding: { top: padTop, right: 10, bottom: 0, left: 0 } },
  plugins: { legend: { display: false }, tooltip: { enabled: false } },
});

// ---------------- chart builders ----------------
function buildA(): any {
  return {
    type: "line",
    data: {
      datasets: [
        { label: "JBGO", data: NM_HOURS.map((h, i) => ({ x: h, y: JBGO[i] })), borderColor: "#ff0000", borderWidth: 2, pointRadius: 0, fill: false, order: 2 },
        { label: "Mt.Gamak", data: NM_HOURS.map((h, i) => ({ x: h, y: GAMAK[i] })), borderColor: "#0000ff", borderWidth: 2, pointRadius: 0, fill: false, order: 1 },
      ],
    },
    options: {
      ...baseOptions(16),
      scales: {
        x: xScale(8, false, false),
        y: {
          type: "linear",
          min: -11.3,
          max: 2.48,
          afterBuildTicks: (s: any) => {
            s.ticks = NM_TICKS.map((v) => ({ value: v }));
          },
          afterFit: (s: any) => {
            s.width = 144;
          },
          border: { display: false },
          grid: { color: GRID, lineWidth: 1, tickLength: 4, tickColor: AXIS },
          ticks: {
            color: TXT,
            padding: 3,
            font: { family: FONT, size: 13.5 },
            callback: (v: any) => (Number(v) < 0 ? "\u2212" + Math.abs(Number(v)) : String(v)),
          },
          title: { display: true, text: "NM Decrease (%)", color: TXT, font: { family: FONT, size: 18, lineHeight: 1.2 }, padding: { top: 81, bottom: 0 } },
        },
      },
    },
    plugins: [
      overlayPlugin({
        anchor: "right", dx: 10, dy: 10, w: 168, h: 61, fontSize: 19, row0: 15.7, rowH: 28.3,
        sx0: 7, sx1: 47, tx: 61, lw: 2,
        items: [
          { label: "JBGO", color: "#ff0000" },
          { label: "Mt.Gamak", color: "#0000ff" },
        ],
      }),
    ],
  };
}

function buildB(): any {
  const datasets: any[] = [];
  let k = 0;
  LINE_SERIES.forEach((s) => {
    datasets.push({
      label: s.label,
      data: TL.map((t, i) => ({ x: t, y: Math.pow(10, s.y[i]) })),
      borderColor: s.color, borderWidth: 2.2, pointRadius: 0, fill: false, order: 100 - k,
    });
    k++;
  });
  BAND_SERIES.forEach((s) => {
    const order = 100 - k;
    datasets.push({
      label: s.label + " lo",
      data: TB.map((t, i) => ({ x: t, y: Math.pow(10, s.lo[i]) })),
      borderColor: s.color, borderWidth: 1, pointRadius: 0, fill: false, order,
    });
    datasets.push({
      label: s.label,
      data: TB.map((t, i) => ({ x: t, y: Math.pow(10, s.hi[i]) })),
      borderColor: s.color, borderWidth: 1, pointRadius: 0, fill: "-1", backgroundColor: s.color, order,
    });
    k++;
  });
  const yLo = -7.42;
  const yHi = 2.34;
  return {
    type: "line",
    data: { datasets },
    options: {
      ...baseOptions(10),
      scales: {
        x: xScale(8, false, true),
        y: {
          type: "logarithmic",
          min: Math.pow(10, yLo),
          max: Math.pow(10, yHi),
          afterBuildTicks: (s: any) => {
            s.ticks = buildLogTicks(yLo, yHi, [-6, -4, -2, 0, 2], [1]);
          },
          afterFit: (s: any) => {
            s.width = 144;
          },
          border: { display: false },
          grid: { drawOnChartArea: false, tickLength: 4, tickColor: AXIS, tickWidth: (c: any) => (c.tick && c.tick.lab ? 1 : 0.7) },
          ticks: {
            autoSkip: false,
            color: TXT,
            padding: 2,
            font: { family: FONT, size: 12 },
            callback: (_v: any, i: number, ticks: any[]) => (ticks[i].lab ? pow10Label(ticks[i].exp) : ""),
          },
          title: { display: true, text: "Protons/cm\u00b2-s-str-MeV", color: TXT, font: { family: FONT, size: 18, lineHeight: 1.2 }, padding: { top: 80, bottom: 0 } },
        },
      },
    },
    plugins: [
      overlayPlugin({
        anchor: "right", dx: 7, dy: 6, w: 152, h: 221, fontSize: 11, row0: 9, rowH: 16.8,
        sx0: 4, sx1: 28, tx: 37, lw: 2,
        items: [...LINE_SERIES, ...BAND_SERIES].map((s) => ({ label: s.label, color: s.color })),
      }),
    ],
  };
}

function buildC(): any {
  const yLo = -0.553;
  const yHi = 4.066;
  return {
    type: "scatter",
    data: {
      datasets: [
        {
          label: "D_SI",
          data: DOSE.map(([h, v]) => ({ x: h, y: v })),
          backgroundColor: "#000000",
          borderWidth: 0,
          pointRadius: 2.2,
        },
      ],
    },
    options: {
      ...baseOptions(10.7),
      scales: {
        x: xScale(56, true, false),
        y: {
          type: "logarithmic",
          min: Math.pow(10, yLo),
          max: Math.pow(10, yHi),
          afterBuildTicks: (s: any) => {
            s.ticks = buildLogTicks(yLo, yHi, [0, 1, 2, 3, 4], [1, 2, 3, 4, 5, 6, 7, 8, 9]);
          },
          afterFit: (s: any) => {
            s.width = 144;
          },
          border: { display: false },
          grid: {
            color: (c: any) => (c.tick && c.tick.lab ? GRID : "rgba(0,0,0,0)"),
            lineWidth: 1,
            tickLength: 4,
            tickColor: AXIS,
            tickWidth: (c: any) => (c.tick && c.tick.lab ? 1 : 0.7),
          },
          ticks: {
            autoSkip: false,
            color: TXT,
            padding: 2,
            font: { family: FONT, size: 12 },
            callback: (_v: any, i: number, ticks: any[]) => (ticks[i].lab ? pow10Label(ticks[i].exp) : ""),
          },
          title: { display: true, text: "Total Dose rate (\u03bcGy/h)", color: TXT, font: { family: FONT, size: 18, lineHeight: 1.2 }, padding: { top: 87, bottom: 0 } },
        },
      },
    },
    plugins: [
      overlayPlugin({
        anchor: "left", dx: 9, dy: 9.3, w: 111, h: 34, fontSize: 19, row0: 15.7, rowH: 0,
        sx0: 28, sx1: 28, tx: 63, lw: 0,
        items: [{ label: "D_SI", color: "#000000", dot: true }],
      }),
    ],
  };
}

// ---------------- React ----------------
function ChartCanvas({ top, height, build }: { top: number; height: number; build: () => any }) {
  const ref = useRef<HTMLCanvasElement | null>(null);
  useEffect(() => {
    if (!ref.current) return;
    const chart = new Chart(ref.current, build());
    return () => chart.destroy();
  }, []);
  return (
    <canvas
      ref={ref}
      width={1011}
      height={height}
      style={{ position: "absolute", left: 0, top, width: 1011, height, display: "block" }}
    />
  );
}

const panelLabel = (top: number): React.CSSProperties => ({
  position: "absolute",
  left: 12,
  top,
  fontFamily: "'Open Sans', 'DejaVu Sans', sans-serif",
  fontWeight: 700,
  fontSize: 24,
  lineHeight: "24px",
  color: "#111111",
});

export default function App() {
  return (
    <div style={{ position: "absolute", left: 0, top: 0, width: 1011, height: 1154, background: "#ffffff", overflow: "hidden" }}>
      <ChartCanvas top={-10} height={376} build={buildA} />
      <ChartCanvas top={366} height={370} build={buildB} />
      <ChartCanvas top={736} height={418} build={buildC} />
      <div style={panelLabel(11)}>(a)</div>
      <div style={panelLabel(383)}>(b)</div>
      <div style={panelLabel(752)}>(c)</div>
    </div>
  );
}
